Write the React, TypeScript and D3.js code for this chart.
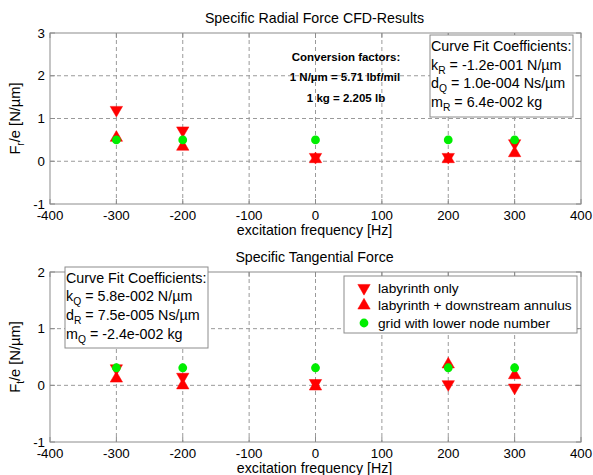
import React from "react";
import * as d3 from "d3";

// Excitation frequencies [Hz]
const frequencies = [-300, -200, 0, 200, 300];

// Specific radial force F_r/e [N/µm]
const radialLabyrinth = [1.2, 0.72, 0.1, 0.1, 0.42];
const radialAnnulus = [0.55, 0.34, 0.05, 0.05, 0.19];
const radialCoarse = [0.5, 0.5, 0.5, 0.5, 0.5];

// Specific tangential force F_t/e [N/µm]
const tangLabyrinth = [0.3, 0.15, 0.04, 0.02, -0.04];
const tangAnnulus = [0.12, 0.0, -0.02, 0.37, 0.18];
const tangCoarse = [0.31, 0.31, 0.31, 0.31, 0.31];

const xTicks = [-400, -300, -200, -100, 0, 100, 200, 300, 400];
const radialTicks = [-1, 0, 1, 2, 3];
const tangTicks = [-1, 0, 1, 2];

const legendLabels = [
  "labyrinth only",
  "labyrinth + downstream annulus",
  "grid with lower node number",
];

const FONT = "'Liberation Sans', Arial, Helvetica, sans-serif";
const AXIS_GRAY = "#8c8c8c";
const GRID_GRAY = "#9a9a9a";
const RED = "#ff0000";
const GREEN = "#00ee00";

const W = 593;
const H = 475;
const LEFT = 50;
const RIGHT = 581;

const TICK_FS = 13.3;
const LABEL_FS = 14.2;
const BOX_FS = 14.3;

const x = d3.scaleLinear().domain([-400, 400]).range([LEFT, RIGHT]);

const triUp = d3.symbol().type(d3.symbolTriangle).size(66)() as string;

function Marker({ kind, cx, cy }: { kind: "down" | "up" | "dot"; cx: number; cy: number }) {
  if (kind === "dot") {
    return <circle cx={cx} cy={cy} r={4.4} fill={GREEN} />;
  }
  const rot = kind === "down" ? 180 : 0;
  return (
    <path
      d={triUp}
      transform={`translate(${cx},${cy}) rotate(${rot})`}
      fill={RED}
      stroke={RED}
      strokeWidth={0.5}
    />
  );
}

// Text with a lowered, smaller subscript: base + sub + rest
function SubText({
  x0,
  y0,
  base,
  sub,
  rest,
  size,
}: {
  x0: number;
  y0: number;
  base: string;
  sub: string;
  rest: string;
  size: number;
}) {
  return (
    <text x={x0} y={y0} fontSize={size} fontFamily={FONT} fill="#000">
      {base}
      <tspan fontSize={size * 0.72} dy={4}>
        {sub}
      </tspan>
      <tspan dy={-4}>{rest}</tspan>
    </text>
  );
}

function Panel({
  y,
  yTicks,
  title,
  titleY,
  labelSub,
  series,
}: {
  y: d3.ScaleLinear<number, number>;
  yTicks: number[];
  title: string;
  titleY: number;
  labelSub: string;
  series: { kind: "down" | "up" | "dot"; values: number[] }[];
}) {
  const [y0, y1] = y.range();
  const top = Math.min(y0, y1);
  const bottom = Math.max(y0, y1);
  const midY = (top + bottom) / 2;
  const tickLen = 5;
  return (
    <g>
      <rect x={LEFT} y={top} width={RIGHT - LEFT} height={bottom - top} fill="#fff" />
      {/* grid */}
      {xTicks.slice(1, -1).map((t) => (
        <line
          key={"gx" + t}
          x1={x(t)}
          x2={x(t)}
          y1={top}
          y2={bottom}
          stroke={GRID_GRAY}
          strokeWidth={1}
          strokeDasharray="4,3"
        />
      ))}
      {yTicks.slice(1, -1).map((t) => (
        <line
          key={"gy" + t}
          x1={LEFT}
          x2={RIGHT}
          y1={y(t)}
          y2={y(t)}
          stroke={GRID_GRAY}
          strokeWidth={1}
          strokeDasharray="4,3"
        />
      ))}
      {/* box and ticks */}
      <rect
        x={LEFT}
        y={top}
        width={RIGHT - LEFT}
        height={bottom - top}
        fill="none"
        stroke={AXIS_GRAY}
        strokeWidth={1}
      />
      {xTicks.map((t) => (
        <g key={"tx" + t}>
          <line x1={x(t)} x2={x(t)} y1={bottom} y2={bottom - tickLen} stroke={AXIS_GRAY} />
          <line x1={x(t)} x2={x(t)} y1={top} y2={top + tickLen} stroke={AXIS_GRAY} />
          <text
            x={x(t)}
            y={bottom + 16}
            textAnchor="middle"
            fontSize={TICK_FS}
            fontFamily={FONT}
            fill="#000"
          >
            {t}
          </text>
        </g>
      ))}
      {yTicks.map((t) => (
        <g key={"ty" + t}>
          <line x1={LEFT} x2={LEFT + tickLen} y1={y(t)} y2={y(t)} stroke={AXIS_GRAY} />
          <line x1={RIGHT} x2={RIGHT - tickLen} y1={y(t)} y2={y(t)} stroke={AXIS_GRAY} />
          <text
            x={LEFT - 5}
            y={y(t) + 4.5}
            textAnchor="end"
            fontSize={TICK_FS}
            fontFamily={FONT}
            fill="#000"
          >
            {t}
          </text>
        </g>
      ))}
      {/* title and axis labels */}
      <text
        x={(LEFT + RIGHT) / 2 - 1}
        y={titleY}
        textAnchor="middle"
        fontSize={LABEL_FS}
        fontFamily={FONT}
        fill="#000"
      >
        {title}
      </text>
      <text
        x={(LEFT + RIGHT) / 2 - 1}
        y={bottom + 30.5}
        textAnchor="middle"
        fontSize={LABEL_FS}
        fontFamily={FONT}
        fill="#000"
      >
        excitation frequency [Hz]
      </text>
      <text
        transform={`translate(20,${midY}) rotate(-90)`}
        textAnchor="middle"
        fontSize={LABEL_FS + 0.5}
        fontFamily={FONT}
        fill="#000"
      >
        F
        <tspan fontSize={10} dy={4}>
          {labelSub}
        </tspan>
        <tspan dy={-4}>/e  [N/µm]</tspan>
      </text>
      {/* data */}
      {series.map((s, si) =>
        s.values.map((v, i) => (
          <Marker key={si + "-" + i} kind={s.kind} cx={x(frequencies[i])} cy={y(v)} />
        ))
      )}
    </g>
  );
}

export default function App() {
  const yTop = d3.scaleLinear().domain([-1, 3]).range([204, 33]);
  const yBot = d3.scaleLinear().domain([-1, 2]).range([442, 272]);

  return (
    <svg width={W} height={H} style={{ display: "block", position: "absolute", left: 0, top: 0 }}>
      <rect width={W} height={H} fill="#fff" />
      <Panel
        y={yTop}
        yTicks={radialTicks}
        title="Specific Radial Force CFD-Results"
        titleY={23}
        labelSub="r"
        series={[
          { kind: "down", values: radialLabyrinth },
          { kind: "up", values: radialAnnulus },
          { kind: "dot", values: radialCoarse },
        ]}
      />
      <Panel
        y={yBot}
        yTicks={tangTicks}
        title="Specific Tangential Force"
        titleY={262}
        labelSub="t"
        series={[
          { kind: "down", values: tangLabyrinth },
          { kind: "up", values: tangAnnulus },
          { kind: "dot", values: tangCoarse },
        ]}
      />

      {/* conversion factors note */}
      <g fontFamily={FONT} fontWeight="bold" fontSize={11.5} textAnchor="middle" fill="#000">
        <text x={346} y={61}>Conversion factors:</text>
        <text x={345} y={81}>1 N/µm = 5.71 lbf/mil</text>
        <text x={346} y={102}>1 kg = 2.205 lb</text>
      </g>

      {/* radial fit coefficients */}
      <rect x={430} y={35} width={143} height={82} fill="#fff" stroke={AXIS_GRAY} />
      <text x={431} y={51} fontSize={BOX_FS} fontFamily={FONT} fill="#000">
        Curve Fit Coefficients:
      </text>
      <SubText x0={431} y0={70} base="k" sub="R" rest=" = -1.2e-001 N/µm" size={BOX_FS} />
      <SubText x0={431} y0={88} base="d" sub="Q" rest=" = 1.0e-004 Ns/µm" size={BOX_FS} />
      <SubText x0={431} y0={107} base="m" sub="R" rest=" = 6.4e-002 kg" size={BOX_FS} />

      {/* tangential fit coefficients */}
      <rect x={65} y={267} width={143} height={81} fill="#fff" stroke={AXIS_GRAY} />
      <text x={66} y={283} fontSize={BOX_FS} fontFamily={FONT} fill="#000">
        Curve Fit Coefficients:
      </text>
      <SubText x0={66} y0={301} base="k" sub="Q" rest=" = 5.8e-002 N/µm" size={BOX_FS} />
      <SubText x0={66} y0={320} base="d" sub="R" rest=" = 7.5e-005 Ns/µm" size={BOX_FS} />
      <SubText x0={66} y0={339} base="m" sub="Q" rest=" = -2.4e-002 kg" size={BOX_FS} />

      {/* legend */}
      <rect x={344} y={276} width={233} height={57} fill="#fff" stroke={AXIS_GRAY} />
      {legendLabels.map((label, i) => {
        const ly = 288 + i * 17.5;
        const kind = (["down", "up", "dot"] as const)[i];
        return (
          <g key={label}>
            <Marker kind={kind} cx={364} cy={ly} />
            <text x={378} y={ly + 4.8} fontSize={13.7} fontFamily={FONT} fill="#000">
              {label}
            </text>
          </g>
        );
      })}
    </svg>
  );
}
